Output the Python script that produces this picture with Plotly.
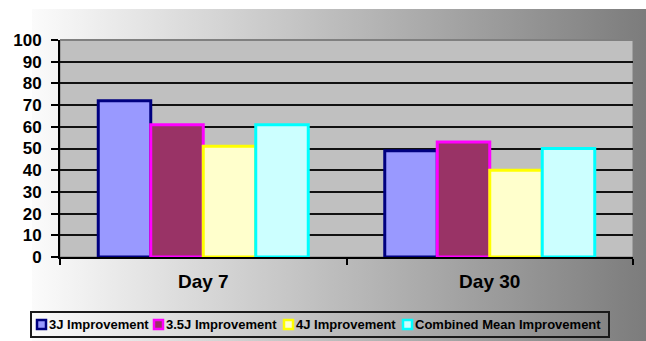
import base64
import plotly.graph_objects as go

# ---- data ----
categories = ["Day 7", "Day 30"]
series_names = ["3J Improvement", "3.5J Improvement", "4J Improvement", "Combined Mean Improvement"]
values_3j = [72, 49]
values_35j = [61, 53]
values_4j = [51, 40]
values_combined = [61, 50]
y_ticks = [0, 10, 20, 30, 40, 50, 60, 70, 80, 90, 100]

series_values = [values_3j, values_35j, values_4j, values_combined]
fill_colors = ["#9999ff", "#993366", "#ffffcc", "#ccffff"]
edge_colors = ["#000080", "#ff00ff", "#ffff00", "#00ffff"]

# ---- geometry ----
W, H = 646, 341
ML, MR, MT, MB = 60, 13, 40, 84
PW = W - ML - MR
PH = H - MT - MB


def px_x(px):
    return (px - ML) / PW


def px_y(py):
    return (H - MB - py) / PH


FONT = "Arial, 'Liberation Sans', sans-serif"

fig = go.Figure()
for name, vals, fc, ec in zip(series_names, series_values, fill_colors, edge_colors):
    fig.add_trace(go.Bar(
        x=categories, y=vals, name=name,
        marker=dict(color=fc, line=dict(color=ec, width=3)),
        showlegend=False,
    ))

# horizontal white-to-grey gradient behind the chart
svg = (
    '<svg xmlns="http://www.w3.org/2000/svg" width="100" height="100" preserveAspectRatio="none">'
    '<defs><linearGradient id="g" x1="0" y1="0" x2="1" y2="0">'
    '<stop offset="0" stop-color="#fbfbfb"/><stop offset="1" stop-color="#7c7c7c"/>'
    '</linearGradient></defs><rect width="100" height="100" fill="url(#g)"/></svg>'
)
src = "data:image/svg+xml;base64," + base64.b64encode(svg.encode()).decode()
gx0, gy0 = 32, 9
images = [dict(
    source=src, xref="paper", yref="paper",
    x=px_x(gx0), y=px_y(gy0), sizex=(W - gx0) / PW, sizey=(H - gy0) / PH,
    xanchor="left", yanchor="top", sizing="stretch", layer="below",
)]

shapes = [
    # grey plot area
    dict(type="rect", xref="paper", yref="paper", x0=0, x1=1, y0=0, y1=1,
         fillcolor="#c0c0c0", line=dict(color="#808080", width=1), layer="below"),
    # top border of the plot area over the 100 grid line
    dict(type="line", xref="paper", yref="paper", x0=0, x1=1, y0=1, y1=1,
         line=dict(color="#808080", width=2), layer="above"),
    # legend frame
    dict(type="rect", xref="paper", yref="paper",
         x0=px_x(31), x1=px_x(609), y0=px_y(337), y1=px_y(312),
         fillcolor="rgba(0,0,0,0)", line=dict(color="#1a1a1a", width=2)),
]

annotations = []
legend_sq_left = [36, 153, 283, 402]
legend_y = 324.5
for name, fc, ec, sx in zip(series_names, fill_colors, edge_colors, legend_sq_left):
    shapes.append(dict(
        type="rect", xref="paper", yref="paper",
        x0=px_x(sx + 1), x1=px_x(sx + 10), y0=px_y(legend_y + 4.5), y1=px_y(legend_y - 4.5),
        fillcolor=fc, line=dict(color=ec, width=2.5),
    ))
    annotations.append(dict(
        xref="paper", yref="paper", x=px_x(sx + 11), y=px_y(legend_y),
        xanchor="left", yanchor="middle", showarrow=False, text="<b>%s</b>" % name,
        font=dict(family=FONT, size=13, color="black"),
    ))

fig.update_layout(
    width=W, height=H,
    margin=dict(l=ML, r=MR, t=MT, b=MB, pad=0),
    paper_bgcolor="white", plot_bgcolor="rgba(0,0,0,0)",
    barmode="group", bargap=0.267, bargroupgap=0,
    showlegend=False,
    images=images, shapes=shapes, annotations=annotations,
    font=dict(family=FONT, color="black"),
    xaxis=dict(
        showline=True, linecolor="black", linewidth=2,
        ticks="outside", tickson="boundaries", ticklen=6, tickcolor="black", tickwidth=1.5,
        tickfont=dict(family=FONT, size=19, color="black", weight="bold"),
        ticklabelstandoff=6, showgrid=False,
    ),
    yaxis=dict(
        range=[0, 100], tickvals=y_ticks,
        showline=True, linecolor="black", linewidth=2,
        ticks="outside", ticklen=7, tickcolor="black", tickwidth=1.5,
        tickfont=dict(family=FONT, size=17, color="black", weight="bold"),
        showgrid=True, gridcolor="#111111", gridwidth=1.5, zeroline=False,
        ticklabelstandoff=6,
    ),
)

fig.write_html("out.html")
